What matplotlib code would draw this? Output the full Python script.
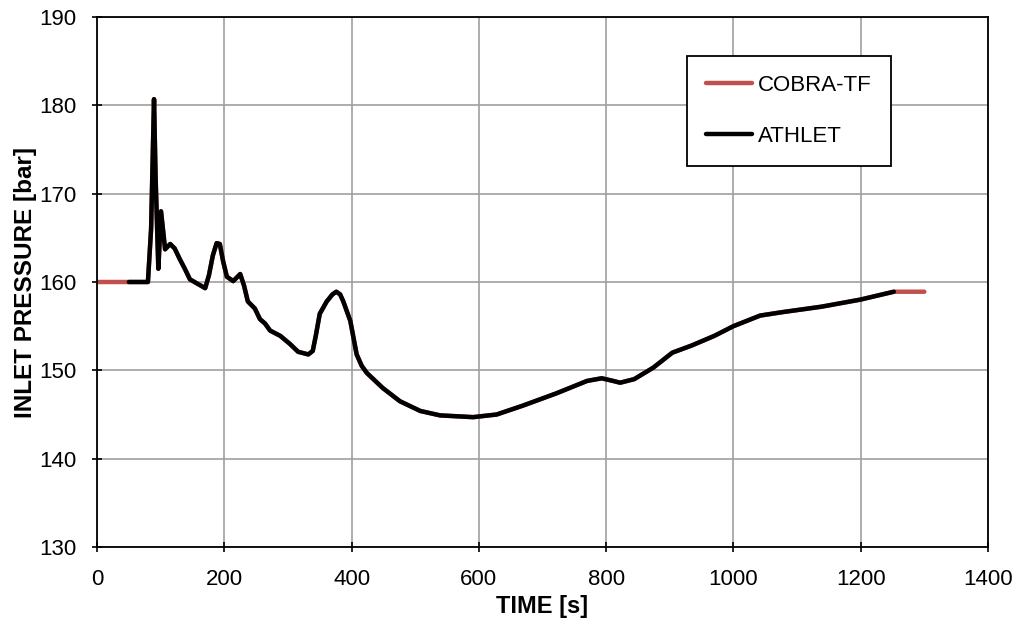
import matplotlib
matplotlib.use("Agg")
import matplotlib.pyplot as plt

plt.rcParams['font.family'] = ['Liberation Sans', 'DejaVu Sans']

# ATHLET inlet pressure
athlet_t = [50, 80, 85, 89.6, 92, 96.4, 100.6, 107, 115, 122, 130, 138, 146, 158, 170,
            176, 182, 188, 193, 198, 204, 214, 225, 231, 237, 248, 256, 264, 272, 288,
            303, 316, 332, 339, 344, 350, 361, 370, 376, 382, 387, 398, 408, 416, 424,
            449, 476, 508, 539, 565, 591, 628, 669, 722, 770, 793, 811, 822, 844, 874,
            904, 934, 970, 1000, 1042, 1078, 1138, 1199, 1252]
athlet_p = [160.0, 160.0, 166.0, 180.7, 172.0, 161.5, 168.0, 163.7, 164.3, 163.8,
            162.6, 161.5, 160.3, 159.8, 159.3, 160.8, 163.0, 164.4, 164.3, 162.4,
            160.6, 160.1, 160.9, 159.6, 157.8, 157.0, 155.8, 155.3, 154.5, 153.9,
            153.0, 152.1, 151.8, 152.2, 154.0, 156.4, 157.8, 158.6, 158.9, 158.6,
            157.8, 155.6, 151.8, 150.5, 149.7, 148.0, 146.5, 145.4, 144.9, 144.8,
            144.7, 145.0, 146.0, 147.4, 148.8, 149.1, 148.8, 148.6, 149.0, 150.3,
            152.0, 152.8, 153.9, 155.0, 156.2, 156.6, 157.2, 158.0, 158.9]

# COBRA-TF: steady value before, then follows ATHLET, then steady tail
cobra_t = [0, 80] + athlet_t[2:] + [1300]
cobra_p = [160.0, 160.0] + athlet_p[2:] + [158.9]

fig, ax = plt.subplots(figsize=(10.18, 6.25), dpi=100)
fig.subplots_adjust(left=97/1018, right=988/1018, top=1-17/625, bottom=1-547/625)

ax.plot(cobra_t, cobra_p, color='#C0504D', lw=3.2, label='COBRA-TF',
        solid_capstyle='round', solid_joinstyle='round')
ax.plot(athlet_t, athlet_p, color='black', lw=3.2, label='ATHLET',
        solid_capstyle='round', solid_joinstyle='round')

ax.set_xlim(0, 1400)
ax.set_ylim(130, 190)
ax.set_xticks(range(0, 1401, 200))
ax.set_yticks(range(130, 191, 10))
ax.grid(True, color='#a0a0a0', lw=1.2)
ax.set_axisbelow(True)
ax.tick_params(direction='inout', length=7, width=1.2, labelsize=16)
ax.tick_params(axis='x', pad=12)
ax.tick_params(axis='y', pad=11)
for s in ax.spines.values():
    s.set_linewidth(1.3)

ax.set_xlabel('TIME [s]', fontsize=17, fontweight='bold', labelpad=4)
ax.set_ylabel('INLET PRESSURE [bar]', fontsize=17.5, fontweight='bold', labelpad=2)

leg = ax.legend(loc='upper left', bbox_to_anchor=(0.662, 0.926), fontsize=16,
                frameon=True, fancybox=False, edgecolor='black', framealpha=1,
                handlelength=2.1, handletextpad=0.25, labelspacing=1.35,
                borderpad=0.85, borderaxespad=0)
leg.get_frame().set_linewidth(1.3)

fig.savefig('out.png', dpi=100)
